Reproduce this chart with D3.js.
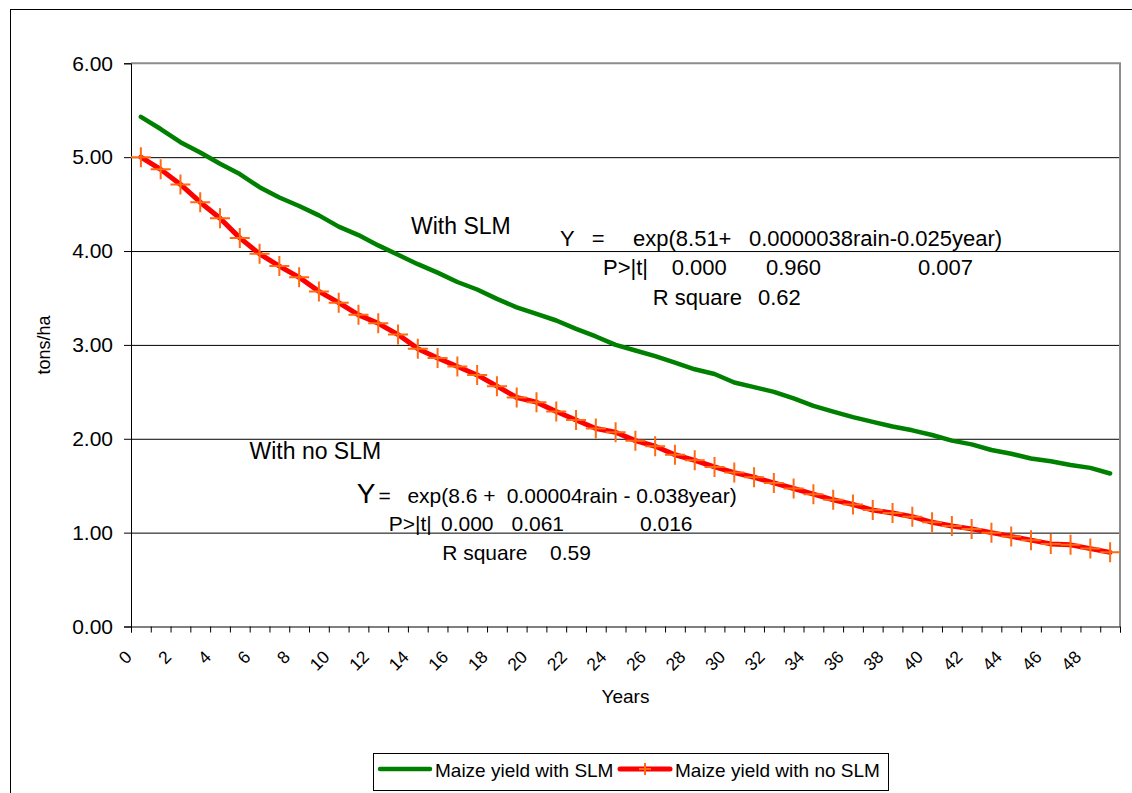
<!DOCTYPE html>
<html>
<head>
<meta charset="utf-8">
<script src="https://cdn.jsdelivr.net/npm/d3@7"></script>
<style>
  body { margin: 0; background: #fff; }
  svg { display: block; font-family: "Liberation Sans", Arial, sans-serif; }
</style>
</head>
<body>
<div id="chart"></div>
<script>
// years 0..49, one category each
var years = d3.range(0, 50);

// yield in tons/ha
var withSLM = [5.43, 5.30, 5.16, 5.05, 4.93, 4.82, 4.68, 4.57, 4.48, 4.38,
               4.26, 4.17, 4.06, 3.96, 3.86, 3.77, 3.67, 3.59, 3.49, 3.40,
               3.33, 3.26, 3.17, 3.09, 3.00, 2.94, 2.88, 2.81, 2.74, 2.69,
               2.60, 2.55, 2.50, 2.43, 2.35, 2.29, 2.23, 2.18, 2.13, 2.09,
               2.04, 1.98, 1.94, 1.88, 1.84, 1.79, 1.76, 1.72, 1.69, 1.63];

var noSLM = [5.00, 4.87, 4.71, 4.52, 4.35, 4.14, 3.97, 3.84, 3.72, 3.57,
             3.45, 3.32, 3.23, 3.11, 2.96, 2.86, 2.77, 2.68, 2.56, 2.44,
             2.39, 2.29, 2.20, 2.11, 2.07, 1.98, 1.92, 1.83, 1.77, 1.70,
             1.64, 1.59, 1.53, 1.47, 1.41, 1.35, 1.30, 1.24, 1.21, 1.17,
             1.11, 1.07, 1.04, 1.00, 0.96, 0.92, 0.88, 0.87, 0.83, 0.79];

var yTicks = [0, 1, 2, 3, 4, 5, 6];
var xLabels = years.filter(function(d) { return d % 2 === 0; });

var seriesNames = ["Maize yield with SLM", "Maize yield with no SLM"];

var width = 1132,
    height = 793;

// plot area edges (not "top": that name is taken by window.top)
var plotL = 131, plotR = 1120, plotT = 63.3, plotB = 626.5;

var svg = d3.select("#chart")
            .append("svg")
            .attr("width", width)
            .attr("height", height);

// outer chart frame (runs off the right and bottom edge)
svg.append("rect")
   .attr("x", 10.5).attr("y", 9.5)
   .attr("width", 1140).attr("height", 800)
   .attr("fill", "#fff")
   .attr("stroke", "#000");

var x = d3.scaleBand().domain(years).range([plotL, plotR]).padding(0);
var xEdge = d3.scaleLinear().domain([0, 50]).range([plotL, plotR]);
var y = d3.scaleLinear().domain([0, 6]).range([plotB, plotT]);

function cx(i) { return x(years[i]) + x.bandwidth() / 2; }

// gridlines
svg.append("g")
   .attr("transform", "translate(" + plotL + ",0)")
   .call(d3.axisLeft(y).tickValues([1, 2, 3, 4, 5]).tickSize(-(plotR - plotL)).tickFormat(""))
   .call(function(g) {
      g.select(".domain").remove();
      g.selectAll("line").attr("stroke", "#000").attr("stroke-width", 1);
   });

// plot border top/right in grey
svg.append("path")
   .attr("d", "M" + plotL + "," + plotT + "H" + plotR + "V" + plotB)
   .attr("fill", "none")
   .attr("stroke", "#8c8c8c")
   .attr("stroke-width", 2);

// y axis
svg.append("g")
   .attr("transform", "translate(" + plotL + ",0)")
   .call(d3.axisLeft(y).tickValues(yTicks).tickSize(7).tickPadding(11).tickFormat(d3.format(".2f")))
   .call(function(g) {
      g.selectAll("path, line").attr("stroke", "#000");
      g.selectAll("text")
       .attr("font-size", 21)
       .attr("font-family", "Liberation Sans, Arial, sans-serif")
       .attr("fill", "#000");
   });

// x axis: tick marks on category edges
svg.append("g")
   .attr("transform", "translate(0," + plotB + ")")
   .call(d3.axisBottom(xEdge).tickValues(d3.range(0, 51)).tickSize(6).tickFormat(""))
   .call(function(g) {
      g.selectAll("path, line").attr("stroke", "#000");
   });

// rotated category labels
svg.append("g")
   .selectAll("text")
   .data(xLabels)
   .enter()
   .append("text")
   .attr("transform", function(d) {
      return "translate(" + (x(d) + x.bandwidth() / 2 - 8) + ",658) rotate(-45)";
   })
   .attr("text-anchor", "end")
   .attr("font-size", 17.5)
   .text(function(d) { return d; });

svg.append("text")
   .attr("x", (plotL + plotR) / 2)
   .attr("y", 703)
   .attr("text-anchor", "middle")
   .attr("font-size", 19)
   .text("Years");

svg.append("text")
   .attr("transform", "translate(50," + ((plotT + plotB) / 2) + ") rotate(-90)")
   .attr("text-anchor", "middle")
   .attr("font-size", 18)
   .text("tons/ha");

var line = d3.line()
             .x(function(d, i) { return cx(i); })
             .y(function(d) { return y(d); });

svg.append("path")
   .datum(withSLM)
   .attr("d", line)
   .attr("fill", "none")
   .attr("stroke", "#008000")
   .attr("stroke-width", 4.5)
   .attr("stroke-linecap", "round")
   .attr("stroke-linejoin", "round");

svg.append("path")
   .datum(noSLM)
   .attr("d", line)
   .attr("fill", "none")
   .attr("stroke", "#ff0000")
   .attr("stroke-width", 5)
   .attr("stroke-linecap", "round")
   .attr("stroke-linejoin", "round");

// plus markers on the no-SLM series
svg.append("g")
   .selectAll("path")
   .data(noSLM)
   .enter()
   .append("path")
   .attr("d", function(d, i) {
      var px = cx(i), py = y(d);
      return "M" + (px - 10) + "," + py + "H" + (px + 10) + "M" + px + "," + (py - 10) + "V" + (py + 10);
   })
   .attr("stroke", "#ff6a13")
   .attr("stroke-width", 2)
   .attr("fill", "none");

// annotation text
function label(parts, yPos, size) {
   var t = svg.append("text")
              .attr("y", yPos)
              .attr("font-size", size)
              .attr("fill", "#000");
   parts.forEach(function(p) {
      t.append("tspan").attr("x", p[0]).attr("font-size", p[2] || size).text(p[1]);
   });
   return t;
}

label([[411, "With SLM"]], 234, 23);
label([[560, "Y"], [591.7, "="], [633, "exp(8.51+"], [749, "0.0000038rain-0.025year)"]], 246, 22);
label([[603, "P>|t|"], [671.7, "0.000"], [766, "0.960"], [918, "0.007"]], 275, 22);
label([[652.7, "R square"], [758, "0.62"]], 305, 22);

label([[249.5, "With no SLM"]], 459, 23);
label([[356.7, "Y", 28], [378.6, "="], [407.4, "exp(8.6 +"], [506.7, "0.00004rain - 0.038year)"]], 503, 21);
label([[388.8, "P>|t|"], [441, "0.000"], [511.5, "0.061"], [640, "0.016"]], 531, 21);
label([[442.2, "R square"], [550, "0.59"]], 560, 21);

// legend
var legend = svg.append("g");
legend.append("rect")
      .attr("x", 373.5).attr("y", 753.5)
      .attr("width", 515).attr("height", 37)
      .attr("fill", "#fff")
      .attr("stroke", "#000");

legend.append("line")
      .attr("x1", 380).attr("x2", 430).attr("y1", 769).attr("y2", 769)
      .attr("stroke", "#008000").attr("stroke-width", 4.5).attr("stroke-linecap", "round");
legend.append("text")
      .attr("x", 435).attr("y", 777)
      .attr("font-size", 19)
      .text(seriesNames[0]);

legend.append("line")
      .attr("x1", 620).attr("x2", 670).attr("y1", 769).attr("y2", 769)
      .attr("stroke", "#ff0000").attr("stroke-width", 5).attr("stroke-linecap", "round");
legend.append("path")
      .attr("d", "M639,769H651M645,763V775")
      .attr("stroke", "#ff6a13").attr("stroke-width", 2);
legend.append("text")
      .attr("x", 675).attr("y", 777)
      .attr("font-size", 19)
      .text(seriesNames[1]);
</script>
</body>
</html>
